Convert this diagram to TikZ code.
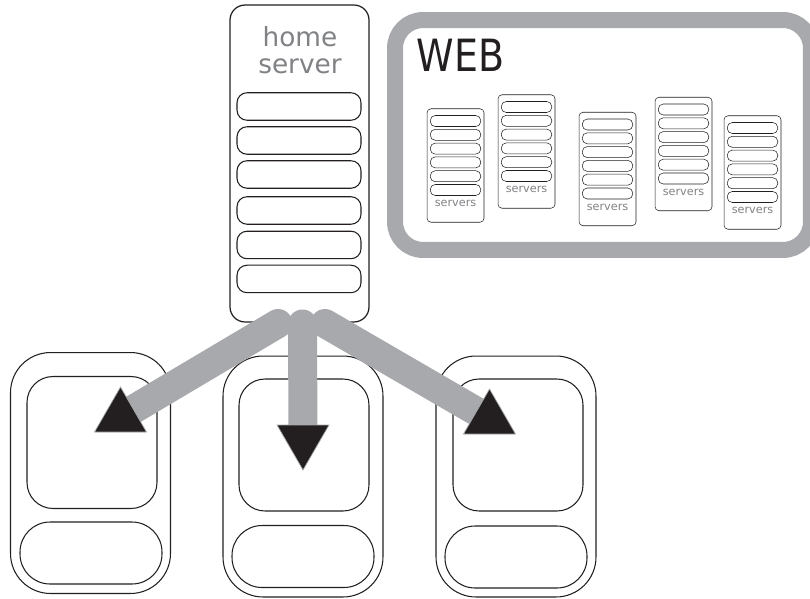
\documentclass[tikz,border=0pt]{standalone}
\usepackage{fontspec}
\setmainfont{DejaVu Sans}
\usetikzlibrary{positioning}
\usetikzlibrary{shapes.geometric}
\definecolor{linkgray}{HTML}{A7A9AC}
\definecolor{textgray}{HTML}{808285}
\definecolor{inkblack}{HTML}{231F20}
\tikzset{hbox/.style={draw=inkblack,line width=0.7pt,rounded corners=0.3cm,minimum width=2.78cm,minimum height=6.34cm,fill=white}}
\tikzset{hslot/.style={draw=inkblack,line width=0.6pt,rounded corners=0.2cm,minimum width=2.48cm,minimum height=0.55cm,inner sep=0pt}}
\tikzset{sbox/.style={draw=inkblack,line width=0.3pt,rounded corners=0.08cm,minimum width=1.14cm,minimum height=2.27cm,inner sep=0pt}}
\tikzset{sslot/.style={draw=inkblack,line width=0.3pt,rounded corners=0.1cm,minimum width=1.01cm,minimum height=0.22cm,inner sep=0pt}}
\tikzset{slabel/.style={text=textgray,font=\fontsize{6.4}{7}\selectfont,inner sep=0pt}}
\tikzset{outerbox/.style={draw=inkblack,line width=0.6pt,rounded corners=0.8cm,minimum width=3.2cm,minimum height=4.82cm,inner sep=0pt}}
\tikzset{screenbox/.style={draw=inkblack,line width=0.6pt,rounded corners=0.52cm,minimum width=2.6cm,minimum height=2.64cm,inner sep=0pt}}
\tikzset{keybox/.style={draw=inkblack,line width=0.6pt,rounded corners=0.6cm,minimum width=2.84cm,minimum height=1.24cm,inner sep=0pt}}
\tikzset{link/.style={draw=linkgray,line width=0.58cm,line cap=round}}
\tikzset{head/.style={regular polygon,regular polygon sides=3,minimum size=1.2cm,inner sep=0pt,fill=inkblack,draw=linkgray,line width=0.4pt}}

\begin{document}
\begin{tikzpicture}[x=0.02cm,y=-0.02cm,on grid]
        \useasboundingbox (0,0) rectangle (810,598);

        \node[outerbox] (dl) at (90.5,473) {};
        \node[screenbox] (dls) at (92,442.5) {};
        \node[keybox] (dlk) at (91,553) {};

        \node[outerbox] (dm) at (303,476.5) {};
        \node[screenbox] (dms) at (304,445) {};
        \node[keybox] (dmk) at (303,556.5) {};

        \node[outerbox] (dr) at (516,476.5) {};
        \node[screenbox] (drs) at (518,445) {};
        \node[keybox] (drk) at (516,557) {};

        \node[hbox] (home) at (299.5,163.5) {};
        \node[text=textgray,align=center,font=\fontsize{15}{15}\selectfont] (hometext) at (300,50) {home\\server};
        \node[hslot] (h1) at (299,106.5) {};
        \node[hslot, below=0.68cm of h1] (h2) {};
        \node[hslot, below=0.68cm of h2] (h3) {};
        \node[hslot, below=0.72cm of h3] (h4) {};
        \node[hslot, below=0.69cm of h4] (h5) {};
        \node[hslot, below=0.68cm of h5] (h6) {};

        \node[draw=linkgray,line width=0.32cm,rounded corners=0.56cm,minimum width=8.32cm,minimum height=4.6cm] (web) at (603,135) {};
        \node[text=inkblack,font=\fontsize{21.6}{22}\selectfont,inner sep=0pt] (webtext) at (460.5,55.5) {\scalebox{1}[1.17]{WEB}};

        \node[sbox] (s1) at (455.5,165.5) {};
        \node[sslot, above=0.89cm of s1] (s1a) {};
        \node[sslot, below=0.276cm of s1a] (s1b) {};
        \node[sslot, below=0.276cm of s1b] (s1c) {};
        \node[sslot, below=0.276cm of s1c] (s1d) {};
        \node[sslot, below=0.276cm of s1d] (s1e) {};
        \node[sslot, below=0.276cm of s1e] (s1f) {};
        \node[slabel, below=0.27cm of s1f] (s1t) {servers};

        \node[sbox] (s2) at (526.5,151.5) {};
        \node[sslot, above=0.89cm of s2] (s2a) {};
        \node[sslot, below=0.276cm of s2a] (s2b) {};
        \node[sslot, below=0.276cm of s2b] (s2c) {};
        \node[sslot, below=0.276cm of s2c] (s2d) {};
        \node[sslot, below=0.276cm of s2d] (s2e) {};
        \node[sslot, below=0.276cm of s2e] (s2f) {};
        \node[slabel, below=0.27cm of s2f] (s2t) {servers};

        \node[sbox] (s3) at (607.5,169) {};
        \node[sslot, above=0.89cm of s3] (s3a) {};
        \node[sslot, below=0.276cm of s3a] (s3b) {};
        \node[sslot, below=0.276cm of s3b] (s3c) {};
        \node[sslot, below=0.276cm of s3c] (s3d) {};
        \node[sslot, below=0.276cm of s3d] (s3e) {};
        \node[sslot, below=0.276cm of s3e] (s3f) {};
        \node[slabel, below=0.27cm of s3f] (s3t) {servers};

        \node[sbox] (s4) at (683.5,154) {};
        \node[sslot, above=0.89cm of s4] (s4a) {};
        \node[sslot, below=0.276cm of s4a] (s4b) {};
        \node[sslot, below=0.276cm of s4b] (s4c) {};
        \node[sslot, below=0.276cm of s4c] (s4d) {};
        \node[sslot, below=0.276cm of s4d] (s4e) {};
        \node[sslot, below=0.276cm of s4e] (s4f) {};
        \node[slabel, below=0.27cm of s4f] (s4t) {servers};

        \node[sbox] (s5) at (752.5,172.5) {};
        \node[sslot, above=0.89cm of s5] (s5a) {};
        \node[sslot, below=0.276cm of s5a] (s5b) {};
        \node[sslot, below=0.276cm of s5b] (s5c) {};
        \node[sslot, below=0.276cm of s5c] (s5d) {};
        \node[sslot, below=0.276cm of s5d] (s5e) {};
        \node[sslot, below=0.276cm of s5e] (s5f) {};
        \node[slabel, below=0.27cm of s5f] (s5t) {servers};

        \coordinate (fromL) at (278,323.5);
        \coordinate (fromM) at (302.5,324);
        \coordinate (fromR) at (325,323.5);
        \coordinate (toL) at (120.5,417);
        \coordinate (toM) at (303,440);
        \coordinate (toR) at (489.5,419);

        \draw[link] (fromL) -- (toL);
        \draw[link] (fromR) -- (toR);
        \draw[link] (fromM) -- (toM);

        \node[head] (headL) at (toL) {};
        \node[head, shape border rotate=180] (headM) at (toM) {};
        \node[head] (headR) at (toR) {};
\end{tikzpicture}
\end{document}
